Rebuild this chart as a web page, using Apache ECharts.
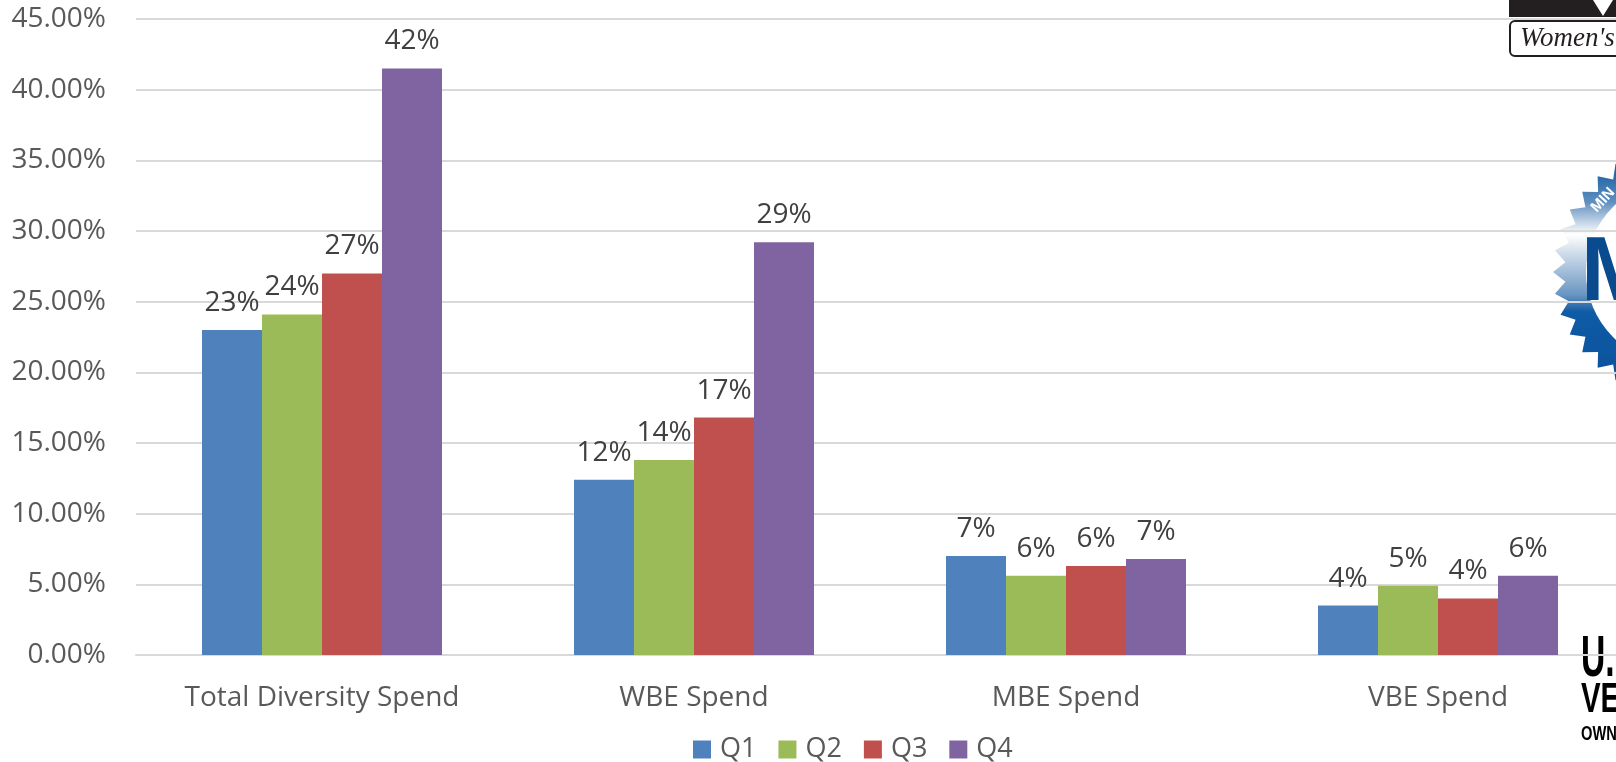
<!DOCTYPE html>
<html>
<head>
<meta charset="utf-8">
<title>Diversity spend</title>
<style>
  html, body { margin: 0; padding: 0; background: #fff; }
  #chart { width: 1616px; height: 762px; }
</style>
<script src="https://cdn.jsdelivr.net/npm/echarts@6/dist/echarts.min.js"></script>
</head>
<body>
<div id="chart"></div>
<script>
var categories = ['Total Diversity Spend', 'WBE Spend', 'MBE Spend', 'VBE Spend']
var q1 = [23.0, 12.4, 7.0, 3.5]
var q2 = [24.1, 13.8, 5.6, 4.9]
var q3 = [27.0, 16.8, 6.3, 4.0]
var q4 = [41.5, 29.2, 6.8, 5.6]
var seriesNames = ['Q1', 'Q2', 'Q3', 'Q4']
var colors = ['#4f81bd', '#9bbb59', '#c0504d', '#8064a2']

var fontName = 'Open Sans'
var textColor = '#595959'

function barSeries(name, values, color) {
  return {
    name: name,
    type: 'bar',
    data: values,
    barWidth: 60,
    barGap: 0,
    itemStyle: { color: color },
    label: {
      show: true,
      position: 'top',
      distance: 13,
      color: '#404040',
      fontFamily: fontName,
      fontSize: 28,
      formatter: function(p) {
        return Math.round(p.value) + '%'
      }
    }
  }
}

// gear outline for the logo, it sits behind the plot
function gearPoints(cx, cy, r1, r2, teeth) {
  var pts = []
  for (var i = 0; i < teeth * 2; i++) {
    var a = (Math.PI * i) / teeth
    var r = i % 2 ? r2 : r1
    pts.push([cx + r * Math.cos(a), cy + r * Math.sin(a)])
  }
  return pts
}

var chart = echarts.init(document.getElementById('chart'))
chart.setOption({
  animation: false,
  backgroundColor: '#fff',
  // plot runs past the right edge of the picture
  grid: { left: 136, width: 1488, top: 19, height: 636, outerBoundsMode: 'none' },
  legend: {
    top: 731,
    left: 688,
    itemWidth: 18,
    itemHeight: 18,
    itemGap: 22,
    icon: 'rect',
    textStyle: { color: textColor, fontFamily: fontName, fontSize: 27, padding: [0, 0, 0, 4] },
    data: seriesNames
  },
  xAxis: {
    type: 'category',
    data: categories,
    axisTick: { show: false },
    axisLine: { lineStyle: { color: '#d9d9d9', width: 2 } },
    axisLabel: { color: textColor, fontFamily: fontName, fontSize: 28, margin: 29 }
  },
  yAxis: {
    type: 'value',
    min: 0,
    max: 45,
    interval: 5,
    axisLine: { show: false },
    axisTick: { show: false },
    splitLine: { lineStyle: { color: '#d9d9d9', width: 2 } },
    axisLabel: {
      color: textColor,
      fontFamily: fontName,
      fontSize: 28,
      margin: 30,
      padding: [6, 0, 0, 0],
      formatter: function(v) {
        return v.toFixed(2) + '%'
      }
    }
  },
  graphic: {
    elements: [
      // women's logo
      { type: 'rect', z: -10, shape: { x: 1509, y: -5, width: 120, height: 22 }, style: { fill: '#231f20' } },
      { type: 'polygon', z: -9, shape: { points: [[1593, 0], [1613, 0], [1603, 16]] }, style: { fill: '#fff' } },
      { type: 'rect', z: -10, shape: { x: 1510, y: 21, width: 120, height: 35, r: 5 }, style: { fill: '#fff', stroke: '#231f20', lineWidth: 2 } },
      { type: 'text', z: -9, style: { x: 1520, y: 25, text: "Women's", fill: '#231f20', font: 'italic 27px "Liberation Serif"' } },
      // gear logo
      {
        type: 'polygon',
        z: -10,
        shape: { points: gearPoints(1678, 272, 125, 113, 36) },
        style: {
          fill: new echarts.graphic.LinearGradient(0, 0, 0, 1, [
            { offset: 0, color: '#1f63a6' },
            { offset: 0.1, color: '#1f63a6' },
            { offset: 0.22, color: '#5f8fbf' },
            { offset: 0.35, color: '#ffffff' },
            { offset: 0.41, color: '#d8e3ee' },
            { offset: 0.59, color: '#6a96c2' },
            { offset: 0.66, color: '#0f5ba5' },
            { offset: 1, color: '#0a4f9a' }
          ])
        }
      },
      { type: 'circle', z: -9, shape: { cx: 1678, cy: 272, r: 92 }, style: { fill: '#fff' } },
      { type: 'text', z: -8, x: 1603, y: 200, rotation: 0.82, style: { x: 0, y: 0, text: 'MIN', align: 'center', verticalAlign: 'middle', fill: '#fff', font: 'bold 15px "Liberation Sans"' } },
      { type: 'text', z: -8, style: { x: 1581, y: 230, text: 'M', fill: '#0a4a8f', font: 'bold 90px "Liberation Sans"' } },
      // veteran logo, text squeezed because there is no narrow font
      { type: 'text', z: -8, x: 1581, y: 631, scaleX: 0.58, style: { x: 0, y: 0, text: 'U.', fill: '#000', font: 'bold 58px "Liberation Sans"', verticalAlign: 'top' } },
      { type: 'text', z: -8, x: 1581, y: 679, scaleX: 0.7, style: { x: 0, y: 0, text: 'VE', fill: '#000', font: 'bold 42px "Liberation Sans"', verticalAlign: 'top' } },
      { type: 'text', z: -8, x: 1581, y: 724, scaleX: 0.7, style: { x: 0, y: 0, text: 'OWN', fill: '#000', font: 'bold 21px "Liberation Sans"', verticalAlign: 'top' } }
    ]
  },
  series: [
    barSeries(seriesNames[0], q1, colors[0]),
    barSeries(seriesNames[1], q2, colors[1]),
    barSeries(seriesNames[2], q3, colors[2]),
    barSeries(seriesNames[3], q4, colors[3])
  ]
})
</script>
</body>
</html>
